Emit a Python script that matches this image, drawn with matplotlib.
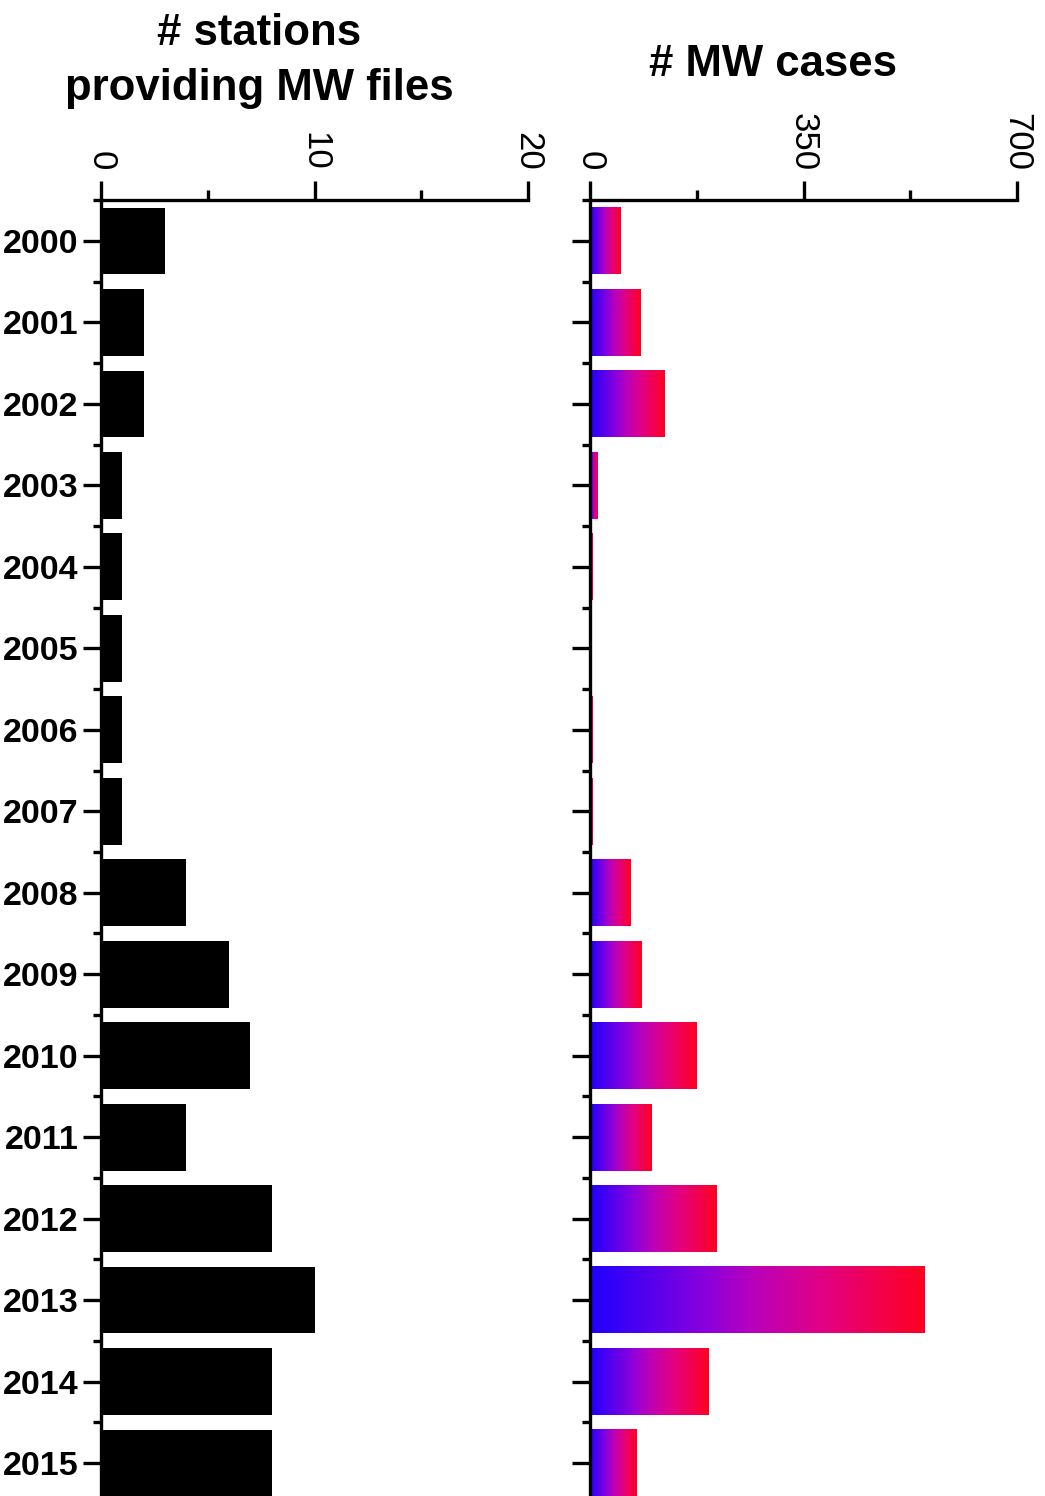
import numpy as np
import matplotlib
matplotlib.use("Agg")
import matplotlib.pyplot as plt
from matplotlib.colors import LinearSegmentedColormap
from matplotlib.ticker import FixedLocator

plt.rcParams['font.family'] = ['Liberation Sans', 'DejaVu Sans']

years = list(range(2000, 2016))
stations = [3, 2, 2, 1, 1, 1, 1, 1, 4, 6, 7, 4, 8, 10, 8, 8]
mw_cases = [50, 83, 122, 13, 4, 0, 4, 4, 66, 85, 174, 101, 208, 549, 194, 77]

station_ticks = [0, 10, 20]
station_minor = [5, 15]
case_ticks = [0, 350, 700]
case_minor = [175, 525]

W, H = 1045, 1496
fig = plt.figure(figsize=(W / 100, H / 100), dpi=100)

top = 1 - 200 / H
ax1 = fig.add_axes([101 / W, 0.0, 427 / W, top])
ax2 = fig.add_axes([590 / W, 0.0, 427 / W, top])

bar_h = 0.82
ylim = (2015.405, 1999.497)

grad = LinearSegmentedColormap.from_list(
    "br", [(0.0, "#1e00ff"), (0.35, "#8c00dc"), (0.5, "#bc00b8"),
           (0.7, "#e20082"), (1.0, "#ff0020")])
ramp = np.linspace(0, 1, 256).reshape(1, -1)

# left panel: solid black bars
ax1.barh(years, stations, height=bar_h, color="black", zorder=2)

# right panel: each bar filled with a blue-to-red ramp along its length
for y, v in zip(years, mw_cases):
    if v <= 0:
        continue
    ax2.imshow(ramp, cmap=grad, aspect="auto", interpolation="bilinear",
               extent=[0, v, y + bar_h / 2, y - bar_h / 2], zorder=2)

spine_lw = 2.4
for ax, ticks, minor, lim in ((ax1, station_ticks, station_minor, (0, 20)),
                              (ax2, case_ticks, case_minor, (0, 700))):
    ax.set_xlim(*lim)
    ax.set_ylim(*ylim)
    for s in ("right", "bottom"):
        ax.spines[s].set_visible(False)
    for s in ("left", "top"):
        ax.spines[s].set_linewidth(spine_lw)
    ax.xaxis.set_ticks_position("top")
    ax.xaxis.set_major_locator(FixedLocator(ticks))
    ax.xaxis.set_minor_locator(FixedLocator(minor))
    ax.set_xticklabels([str(t) for t in ticks])
    ax.tick_params(axis="x", which="major", direction="out", length=14,
                   width=spine_lw, pad=7, labelsize=25, labelrotation=-90)
    ax.tick_params(axis="x", which="minor", direction="out", length=7,
                   width=spine_lw)
    ax.yaxis.set_major_locator(FixedLocator(years))
    ax.yaxis.set_minor_locator(FixedLocator([y - 0.5 for y in years]))
    ax.tick_params(axis="y", which="major", direction="out", length=13,
                   width=spine_lw, pad=3)
    ax.tick_params(axis="y", which="minor", direction="out", length=6,
                   width=spine_lw)
    ax.set_facecolor("none")

ax1.set_yticklabels([str(y) for y in years], fontsize=24.5, fontweight="bold")
ax2.set_yticklabels([])

fig.text(259 / W, 1 - 61 / H, "# stations\nproviding MW files",
         ha="center", va="center", fontsize=31.5, fontweight="bold",
         linespacing=1.42)
fig.text(773 / W, 1 - 64 / H, "# MW cases", ha="center", va="center",
         fontsize=31.5, fontweight="bold")

fig.savefig("out.png", dpi=100)
